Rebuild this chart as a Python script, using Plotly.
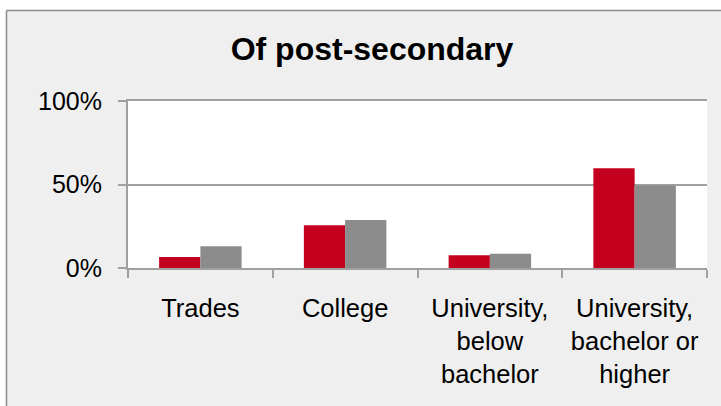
import plotly.graph_objects as go

categories = ["Trades", "College", "University,<br>below<br>bachelor", "University,<br>bachelor or<br>higher"]
series_red = [0.066, 0.256, 0.076, 0.598]
series_gray = [0.13, 0.288, 0.086, 0.494]
y_ticks = [0, 0.5, 1.0]
y_tick_labels = ["0%", "50%", "100%"]
title_text = "<b>Of post-secondary</b>"

W, H = 721, 406
L, R, T, B = 128, 14, 101, 138
PW, PH = W - L - R, H - T - B


def px_x(p):
    return (p - L) / PW


def px_y(p):
    return (H - B - p) / PH


border_x = 6.5
border_y = 10.5

fig = go.Figure()
fig.add_trace(go.Bar(x=categories, y=series_red, marker=dict(color="#C4001F", line=dict(width=0)), showlegend=False))
fig.add_trace(go.Bar(x=categories, y=series_gray, marker=dict(color="#8C8C8C", line=dict(width=0)), showlegend=False))

shapes = [
    dict(type="rect", xref="paper", yref="paper", x0=px_x(-20), x1=px_x(border_x), y0=px_y(H + 20), y1=px_y(-20),
         fillcolor="white", line=dict(width=0), layer="above"),
    dict(type="rect", xref="paper", yref="paper", x0=px_x(-20), x1=px_x(W + 20), y0=px_y(border_y), y1=px_y(-20),
         fillcolor="white", line=dict(width=0), layer="above"),
    dict(type="line", xref="paper", yref="paper", x0=px_x(border_x), x1=px_x(border_x), y0=px_y(H + 20), y1=px_y(border_y),
         line=dict(color="#8C8C8C", width=1.5), layer="above"),
    dict(type="line", xref="paper", yref="paper", x0=px_x(border_x), x1=px_x(W + 20), y0=px_y(border_y), y1=px_y(border_y),
         line=dict(color="#8C8C8C", width=1.5), layer="above"),
]

fig.update_layout(
    width=W, height=H,
    paper_bgcolor="#EFEFEF",
    plot_bgcolor="white",
    margin=dict(l=L, r=R, t=T, b=B, autoexpand=False),
    barmode="group",
    bargap=0.43,
    bargroupgap=0,
    font=dict(family="Liberation Sans, Arial, sans-serif", color="black"),
    title=dict(text=title_text, x=372 / W, xanchor="center", y=1 - 49 / H, yanchor="middle",
               font=dict(size=32, family="Liberation Sans, Arial, sans-serif", color="black")),
    shapes=shapes,
)
fig.update_xaxes(
    showline=True, linecolor="#A0A0A0", linewidth=2, mirror=True,
    ticks="outside", tickson="boundaries", ticklen=8, tickcolor="#A0A0A0", tickwidth=2,
    tickfont=dict(size=25.5, color="black"), ticklabelstandoff=16,
    showgrid=False, tickangle=0,
)
fig.update_yaxes(
    range=[0, 1.0], tickvals=y_ticks, ticktext=y_tick_labels,
    showline=True, linecolor="#A0A0A0", linewidth=2,
    ticks="outside", ticklen=8, tickcolor="#A0A0A0", tickwidth=2,
    tickfont=dict(size=25, color="black"), ticklabelstandoff=11,
    showgrid=True, gridcolor="#A0A0A0", gridwidth=2, zeroline=False,
)
fig.write_html("out.html", config={"displayModeBar": False},
               post_script="document.body.style.margin='0';document.body.style.padding='0';")
